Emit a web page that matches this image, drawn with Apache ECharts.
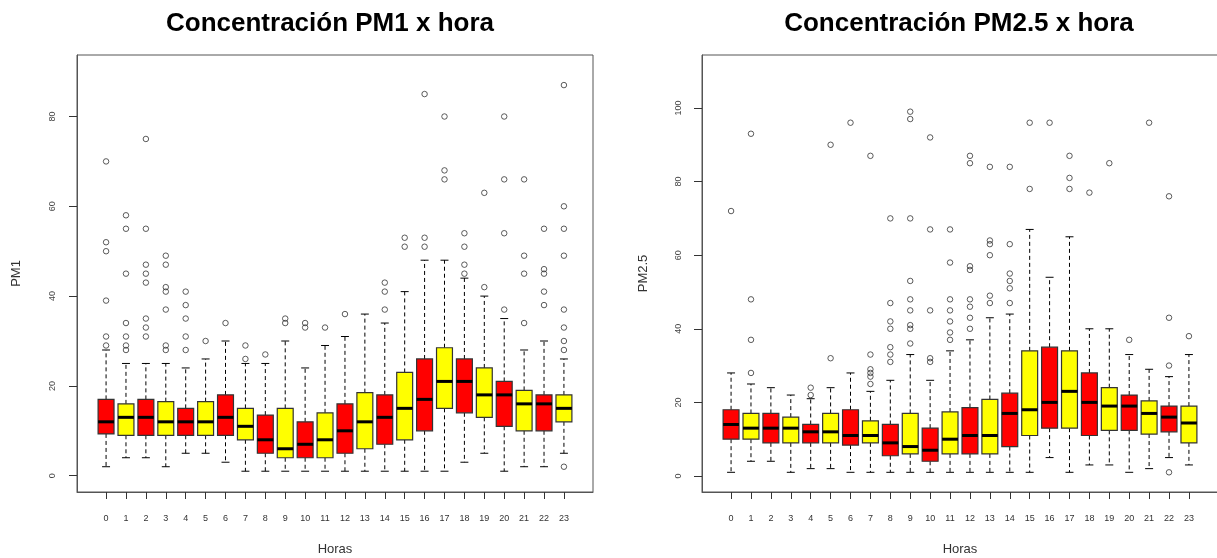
<!DOCTYPE html>
<html>
<head>
<meta charset="utf-8">
<title>Concentración PM x hora</title>
<script src="https://cdn.jsdelivr.net/npm/echarts@6/dist/echarts.min.js"></script>
<style>
  html, body { margin: 0; padding: 0; background: #ffffff; }
  #chart { width: 1217px; height: 558px; }
</style>
</head>
<body>
<div id="chart"></div>
<script>
// Hours of the day (x categories)
const hours = ['0','1','2','3','4','5','6','7','8','9','10','11','12','13','14','15','16','17','18','19','20','21','22','23'];

// PM1 box statistics per hour: lower whisker, Q1, median, Q3, upper whisker
const pm1Low    = [2, 4, 4, 2, 5, 5, 3, 1, 1, 1, 1, 1, 1, 1, 1, 1, 1, 1, 3, 5, 1, 2, 2, 5];
const pm1Q1     = [9.3, 9, 9, 9, 9, 9, 9, 8, 5, 4, 4, 4, 5, 6, 7, 8, 10, 15, 14, 13, 11, 10, 10, 12];
const pm1Median = [12, 13, 13, 12, 12, 12, 13, 11, 8, 6, 7, 8, 10, 12, 13, 15, 17, 21, 21, 18, 18, 16, 16, 15];
const pm1Q3     = [17, 16, 17, 16.5, 15, 16.5, 18, 15, 13.5, 15, 12, 14, 16, 18.5, 18, 23, 26, 28.5, 26, 24, 21, 19, 18, 18];
const pm1High   = [28, 25, 25, 25, 24, 26, 30, 25, 25, 30, 24, 29, 31, 36, 34, 41, 48, 48, 44, 40, 35, 28, 30, 26];
const pm1Outliers = [
  [29, 31, 39, 50, 52, 70],
  [28, 29, 31, 34, 45, 55, 58],
  [31, 33, 35, 43, 45, 47, 55, 75],
  [28, 29, 37, 41, 42, 47, 49],
  [28, 31, 35, 38, 41],
  [30],
  [34],
  [26, 29],
  [27],
  [34, 35],
  [33, 34],
  [33],
  [36],
  [],
  [37, 41, 43],
  [51, 53],
  [51, 53, 85],
  [66, 68, 80],
  [45, 47, 51, 54],
  [42, 63],
  [37, 54, 66, 80],
  [34, 45, 49, 66],
  [38, 41, 45, 46, 55],
  [2, 28, 30, 33, 37, 49, 55, 60, 87]
];

// PM2.5 box statistics per hour
const pm25Low    = [1, 4, 4, 1, 2, 2, 1, 1, 1, 1, 1, 1, 1, 1, 1, 1, 5, 1, 3, 3, 1, 2, 5, 3];
const pm25Q1     = [10, 10, 9, 9, 9, 9, 8.4, 9, 5.5, 6, 4, 6, 6, 6, 8, 11, 13, 13, 11, 12.4, 12.4, 11.4, 12, 9];
const pm25Median = [14, 13, 13, 13, 12, 12, 11, 11, 9, 8, 7, 10, 11, 11, 17, 18, 20, 23, 20, 19, 19, 17, 16, 14.4];
const pm25Q3     = [18, 17, 17, 16, 14, 17, 18, 15, 14, 17, 13, 17.4, 18.6, 20.8, 22.5, 34, 35, 34, 28, 24, 22, 20.4, 19, 19];
const pm25High   = [28, 25, 24, 22, 21, 24, 28, 23, 26, 33, 26, 34, 37, 43, 44, 67, 54, 65, 40, 40, 33, 29, 27, 33];
const pm25Outliers = [
  [72],
  [28, 37, 48, 93],
  [],
  [],
  [22, 24],
  [32, 90],
  [96],
  [25, 27, 28, 29, 33, 87],
  [31, 33, 35, 40, 42, 47, 70],
  [36, 40, 41, 45, 48, 53, 70, 97, 99],
  [31, 32, 45, 67, 92],
  [37, 39, 42, 45, 48, 58, 67],
  [40, 43, 46, 48, 56, 57, 85, 87],
  [47, 49, 60, 63, 64, 84],
  [47, 51, 53, 55, 63, 84],
  [78, 96],
  [96],
  [78, 81, 87],
  [77],
  [85],
  [37],
  [96],
  [1, 30, 43, 76],
  [38]
];

// Y tick labels
const pm1Ticks  = [0, 20, 40, 60, 80];
const pm25Ticks = [0, 20, 40, 60, 80, 100];

const boxColors = ['#ff0000', '#ffff00'];
const positions = hours.map((h, i) => i + 1);

function boxData(low, q1, med, q3, high) {
  return hours.map((h, i) => [i + 1, low[i], q1[i], med[i], q3[i], high[i]]);
}
function outlierData(list) {
  const out = [];
  list.forEach((vals, i) => vals.forEach(v => out.push([i + 1, v])));
  return out;
}

// Box with dashed whiskers, short staples and a heavy median bar
function renderBox(params, api) {
  const x = api.value(0);
  const lo = api.coord([x, api.value(1)]);
  const q1 = api.coord([x, api.value(2)]);
  const md = api.coord([x, api.value(3)]);
  const q3 = api.coord([x, api.value(4)]);
  const hi = api.coord([x, api.value(5)]);
  const unit = api.size([1, 0])[0];
  const half = unit * 0.4;
  const staple = half / 2;
  const cx = lo[0];
  const fill = boxColors[params.dataIndex % 2];
  return {
    type: 'group',
    children: [
      { type: 'line', shape: { x1: cx, y1: q3[1], x2: cx, y2: hi[1] },
        style: { stroke: '#000', lineWidth: 1, lineDash: [4, 3] } },
      { type: 'line', shape: { x1: cx, y1: q1[1], x2: cx, y2: lo[1] },
        style: { stroke: '#000', lineWidth: 1, lineDash: [4, 3] } },
      { type: 'line', shape: { x1: cx - staple, y1: hi[1], x2: cx + staple, y2: hi[1] },
        style: { stroke: '#000', lineWidth: 1 } },
      { type: 'line', shape: { x1: cx - staple, y1: lo[1], x2: cx + staple, y2: lo[1] },
        style: { stroke: '#000', lineWidth: 1 } },
      { type: 'rect', shape: { x: cx - half, y: q3[1], width: half * 2, height: q1[1] - q3[1] },
        style: { fill: fill, stroke: '#333', lineWidth: 1.2 } },
      { type: 'line', shape: { x1: cx - half, y1: md[1], x2: cx + half, y2: md[1] },
        style: { stroke: '#000', lineWidth: 3 } }
    ]
  };
}

const fontFamily = '"Liberation Sans", Arial, sans-serif';

function xAxisFor(gridIndex) {
  return {
    type: 'value', gridIndex: gridIndex, min: -0.46, max: 25.46,
    name: 'Horas', nameLocation: 'middle', nameGap: 51,
    nameTextStyle: { fontSize: 13, color: '#333', fontFamily: fontFamily },
    axisLine: { show: true, onZero: false, lineStyle: { color: '#555', width: 1 } },
    axisTick: { show: true, length: 7, customValues: positions, lineStyle: { color: '#333' } },
    axisLabel: { customValues: positions, formatter: v => hours[Math.round(v) - 1],
      fontSize: 9, color: '#333', margin: 22, fontFamily: fontFamily },
    splitLine: { show: false }
  };
}
function yAxisFor(gridIndex, name, min, max, ticks, margin, gap) {
  return {
    type: 'value', gridIndex: gridIndex, min: min, max: max,
    name: name, nameLocation: 'middle', nameGap: gap, nameRotate: 90,
    nameTextStyle: { fontSize: 13, color: '#333', fontFamily: fontFamily },
    axisLine: { show: true, onZero: false, lineStyle: { color: '#555', width: 1 } },
    axisTick: { show: true, length: 8, customValues: ticks, lineStyle: { color: '#333' } },
    axisLabel: { customValues: ticks, rotate: 90, fontSize: 9, color: '#444',
      margin: margin, fontFamily: fontFamily },
    splitLine: { show: false }
  };
}

const chart = echarts.init(document.getElementById('chart'), null, { renderer: 'canvas' });
chart.setOption({
  animation: false,
  backgroundColor: '#ffffff',
  title: [
    { text: 'Concentración PM1 x hora', left: 330, top: 11, textAlign: 'center', padding: 0,
      textStyle: { fontSize: 26, fontWeight: 'bold', color: '#000', fontFamily: fontFamily } },
    { text: 'Concentración PM2.5 x hora', left: 959, top: 11, textAlign: 'center', padding: 0,
      textStyle: { fontSize: 26, fontWeight: 'bold', color: '#000', fontFamily: fontFamily } }
  ],
  grid: [
    { left: 77, top: 55, width: 516, height: 437, show: true, borderColor: '#555', borderWidth: 1,
      backgroundColor: 'transparent', containLabel: false, outerBoundsMode: 'none' },
    { left: 702, top: 55, width: 516, height: 437, show: true, borderColor: '#555', borderWidth: 1,
      backgroundColor: 'transparent', containLabel: false, outerBoundsMode: 'none' }
  ],
  xAxis: [xAxisFor(0), xAxisFor(1)],
  yAxis: [
    yAxisFor(0, 'PM1', -3.63, 93.7, pm1Ticks, 20, 54),
    yAxisFor(1, 'PM2.5', -4.35, 114.4, pm25Ticks, 18.5, 52)
  ],
  series: [
    { type: 'custom', name: 'PM1', xAxisIndex: 0, yAxisIndex: 0,
      renderItem: renderBox, encode: { x: 0, y: [1, 2, 3, 4, 5] },
      data: boxData(pm1Low, pm1Q1, pm1Median, pm1Q3, pm1High) },
    { type: 'scatter', name: 'PM1 atípicos', xAxisIndex: 0, yAxisIndex: 0,
      symbol: 'circle', symbolSize: 5.5,
      itemStyle: { color: 'rgba(0,0,0,0)', borderColor: '#333', borderWidth: 1 },
      data: outlierData(pm1Outliers) },
    { type: 'custom', name: 'PM2.5', xAxisIndex: 1, yAxisIndex: 1,
      renderItem: renderBox, encode: { x: 0, y: [1, 2, 3, 4, 5] },
      data: boxData(pm25Low, pm25Q1, pm25Median, pm25Q3, pm25High) },
    { type: 'scatter', name: 'PM2.5 atípicos', xAxisIndex: 1, yAxisIndex: 1,
      symbol: 'circle', symbolSize: 5.5,
      itemStyle: { color: 'rgba(0,0,0,0)', borderColor: '#333', borderWidth: 1 },
      data: outlierData(pm25Outliers) }
  ]
});
</script>
</body>
</html>
